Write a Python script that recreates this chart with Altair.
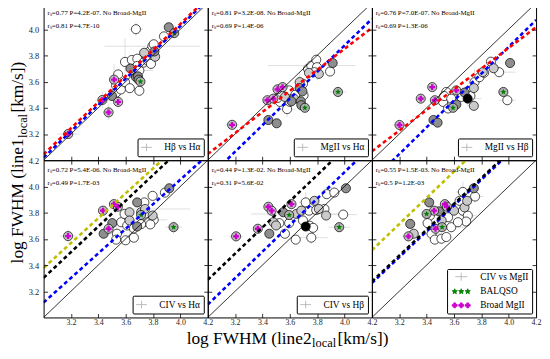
import math
import altair as alt
import pandas as pd

FONT = "Liberation Serif"

# ---------------- data ----------------
# points: (x, y, kind)  kind: w=white, l=light grey, d=dark grey, k=black, m=Broad MgII, g=BALQSO
P1_POINTS = [
    (3.18, 3.20, 'm'), (3.43, 3.46, 'm'), (3.50, 3.49, 'd'), (3.475, 3.365, 'm'), (3.545, 3.445, 'm'),
    (3.515, 3.615, 'm'), (3.545, 3.655, 'w'), (3.53, 3.57, 'w'), (3.53, 3.515, 'w'), (3.565, 3.54, 'w'),
    (3.595, 3.595, 'w'), (3.595, 3.75, 'w'), (3.63, 3.55, 'w'), (3.645, 3.765, 'w'), (3.685, 3.775, 'w'),
    (3.685, 3.72, 'w'), (3.70, 3.685, 'w'), (3.70, 3.53, 'w'), (3.675, 3.635, 'd'), (3.69, 3.64, 'd'),
    (3.695, 3.615, 'd'), (3.708, 3.60, 'g'), (3.635, 3.70, 'd'), (3.675, 4.00, 'w'), (3.73, 3.745, 'w'),
    (3.755, 3.79, 'w'), (3.775, 3.83, 'w'), (3.795, 3.87, 'w'), (3.805, 3.885, 'w'), (3.735, 3.82, 'l'),
    (3.815, 3.79, 'l'), (3.81, 3.83, 'd'), (3.76, 3.76, 'w'), (3.785, 3.735, 'w'), (3.88, 3.945, 'w'),
    (3.915, 4.015, 'd'), (3.955, 3.97, 'g'),
]
P2_POINTS = [
    (3.178, 3.27, 'm'), (3.443, 3.307, 'd'), (3.504, 3.282, 'd'), (3.436, 3.458, 'm'), (3.48, 3.47, 'm'),
    (3.51, 3.541, 'm'), (3.547, 3.558, 'm'), (3.528, 3.445, 'w'), (3.51, 3.475, 'w'), (3.58, 3.39, 'w'),
    (3.533, 3.521, 'w'), (3.595, 3.533, 'w'), (3.564, 3.483, 'l'), (3.60, 3.445, 'w'), (3.612, 3.45, 'd'),
    (3.672, 3.551, 'd'), (3.692, 3.526, 'd'), (3.70, 3.496, 'w'), (3.68, 3.45, 'd'), (3.684, 3.42, 'd'),
    (3.71, 3.40, 'g'), (3.672, 3.596, 'l'), (3.696, 3.584, 'w'), (3.733, 3.697, 'w'), (3.74, 3.667, 'l'),
    (3.757, 3.722, 'w'), (3.793, 3.767, 'w'), (3.798, 3.71, 'w'), (3.812, 3.659, 'l'), (3.78, 3.672, 'w'),
    (3.913, 3.742, 'd'), (3.894, 3.677, 'w'), (3.952, 3.521, 'g'), (3.64, 3.50, 'w'), (3.63, 3.47, 'l'),
]
P3_POINTS = [
    (3.202, 3.269, 'm'), (3.357, 3.47, 'm'), (3.441, 3.558, 'm'), (3.46, 3.458, 'm'), (3.617, 3.533, 'm'),
    (3.45, 3.307, 'd'), (3.48, 3.287, 'd'), (3.52, 3.445, 'w'), (3.557, 3.395, 'w'), (3.544, 3.521, 'w'),
    (3.528, 3.49, 'w'), (3.58, 3.47, 'w'), (3.617, 3.425, 'd'), (3.593, 3.40, 'g'), (3.653, 3.483, 'w'),
    (3.70, 3.47, 'k'), (3.677, 3.516, 'd'), (3.70, 3.526, 'w'), (3.745, 3.551, 'l'), (3.75, 3.596, 'w'),
    (3.745, 3.415, 'l'), (3.786, 3.634, 'w'), (3.81, 3.672, 'l'), (3.82, 3.667, 'w'), (3.87, 3.752, 'w'),
    (3.89, 3.702, 'l'), (3.93, 3.672, 'w'), (4.01, 3.742, 'd'), (3.961, 3.521, 'g'), (3.99, 3.458, 'w'),
    (3.72, 3.49, 'w'),
]
P4_POINTS = [
    (3.179, 3.621, 'm'), (3.434, 3.815, 'm'), (3.514, 3.865, 'm'), (3.543, 3.845, 'm'), (3.475, 3.677, 'm'),
    (3.439, 3.639, 'd'), (3.502, 3.72, 'd'), (3.536, 3.639, 'w'), (3.53, 3.594, 'w'), (3.599, 3.589, 'w'),
    (3.66, 3.609, 'w'), (3.567, 3.727, 'w'), (3.592, 3.79, 'w'), (3.628, 3.803, 'l'), (3.611, 3.702, 'w'),
    (3.628, 3.74, 'l'), (3.684, 3.878, 'd'), (3.713, 3.803, 'l'), (3.737, 3.878, 'w'), (3.713, 3.782, 'g'),
    (3.684, 3.694, 'd'), (3.761, 3.727, 'w'), (3.742, 3.828, 'l'), (3.797, 3.928, 'w'), (3.797, 3.778, 'l'),
    (3.805, 3.745, 'w'), (3.78, 3.71, 'w'), (3.887, 3.953, 'w'), (3.919, 3.986, 'd'), (3.95, 3.689, 'g'),
    (3.713, 3.712, 'w'), (3.66, 3.68, 'w'),
]
P5_POINTS = [
    (3.207, 3.619, 'm'), (3.366, 3.677, 'm'), (3.443, 3.845, 'm'), (3.467, 3.815, 'm'), (3.612, 3.865, 'm'),
    (3.595, 3.782, 'g'), (3.45, 3.639, 'd'), (3.523, 3.72, 'w'), (3.48, 3.727, 'l'), (3.564, 3.639, 'w'),
    (3.595, 3.72, 'w'), (3.552, 3.803, 'd'), (3.648, 3.79, 'l'), (3.684, 3.815, 'l'), (3.716, 3.878, 'w'),
    (3.74, 3.815, 'w'), (3.78, 3.89, 'l'), (3.793, 3.82, 'w'), (3.812, 3.828, 'l'), (3.865, 3.778, 'l'),
    (3.853, 3.828, 'w'), (3.87, 3.941, 'w'), (3.925, 3.953, 'w'), (4.01, 3.986, 'd'), (3.99, 3.785, 'w'),
    (3.961, 3.689, 'g'), (3.716, 3.694, 'k'), (3.745, 3.70, 'w'), (3.77, 3.684, 'w'), (3.643, 3.594, 'w'),
    (3.757, 3.609, 'w'), (3.696, 3.74, 'w'), (3.499, 3.702, 'l'),
]
P6_POINTS = [
    (3.267, 3.619, 'm'), (3.455, 3.815, 'm'), (3.465, 3.677, 'm'), (3.533, 3.865, 'm'), (3.549, 3.845, 'm'),
    (3.40, 3.79, 'g'), (3.513, 3.689, 'g'), (3.28, 3.714, 'd'), (3.306, 3.639, 'l'), (3.419, 3.878, 'd'),
    (3.424, 3.777, 'w'), (3.407, 3.72, 'w'), (3.436, 3.639, 'w'), (3.46, 3.594, 'w'), (3.508, 3.601, 'w'),
    (3.544, 3.614, 'w'), (3.49, 3.81, 'd'), (3.51, 3.74, 'l'), (3.557, 3.765, 'w'), (3.58, 3.689, 'w'),
    (3.617, 3.845, 'w'), (3.60, 3.815, 'l'), (3.641, 3.89, 'w'), (3.665, 3.815, 'w'), (3.677, 3.84, 'l'),
    (3.696, 3.89, 'l'), (3.701, 3.777, 'w'), (3.689, 3.732, 'w'), (3.629, 3.727, 'w'), (3.665, 3.958, 'w'),
    (3.745, 3.986, 'd'), (3.754, 3.923, 'w'),
]

# error bars: (x, y, xerr, yerr)
P1_ERR = [(3.18, 3.20, 0.08, 0.03), (3.795, 3.87, 0.35, 0.03), (3.515, 3.615, 0.04, 0.12),
          (3.595, 3.75, 0.03, 0.18), (3.43, 3.46, 0.05, 0.06), (3.675, 4.00, 0.05, 0.05),
          (3.70, 3.685, 0.10, 0.04), (3.475, 3.365, 0.04, 0.06)]
P2_ERR = [(3.757, 3.722, 0.32, 0.03), (3.178, 3.27, 0.05, 0.04), (3.672, 3.551, 0.05, 0.12),
          (3.80, 3.71, 0.04, 0.10), (3.952, 3.521, 0.06, 0.04), (3.58, 3.39, 0.06, 0.06)]
P3_ERR = [(3.58, 3.47, 0.15, 0.03), (3.93, 3.672, 0.12, 0.03), (3.70, 3.47, 0.10, 0.06),
          (3.202, 3.269, 0.05, 0.04), (3.75, 3.596, 0.04, 0.10), (3.99, 3.458, 0.06, 0.04)]
P4_ERR = [(3.742, 3.828, 0.33, 0.03), (3.179, 3.621, 0.06, 0.05), (3.628, 3.74, 0.05, 0.10),
          (3.95, 3.689, 0.06, 0.05), (3.805, 3.745, 0.10, 0.04), (3.536, 3.639, 0.06, 0.06)]
P5_ERR = [(3.648, 3.79, 0.33, 0.03), (3.207, 3.619, 0.05, 0.04), (3.99, 3.785, 0.10, 0.04),
          (3.757, 3.609, 0.12, 0.05), (3.961, 3.689, 0.08, 0.04), (3.716, 3.878, 0.05, 0.08)]
P6_ERR = [(3.665, 3.958, 0.05, 0.08), (3.754, 3.923, 0.06, 0.05), (3.436, 3.639, 0.06, 0.05),
          (3.58, 3.689, 0.10, 0.05), (3.267, 3.619, 0.05, 0.04), (3.701, 3.777, 0.06, 0.06)]

# fitted relations: name -> ([x0, x1], [y0, y1])
P1_FITS = {"blue": ([3.0, 4.2], [3.02, 4.225]), "red": ([3.0, 4.2], [3.045, 4.24])}
P2_FITS = {"blue": ([3.0, 4.2], [2.862, 4.079]), "red": ([3.0, 4.2], [3.047, 4.011])}
P3_FITS = {"blue": ([3.0, 4.2], [2.842, 4.07]), "red": ([3.0, 4.2], [3.068, 4.015])}
P4_FITS = {"yellow": ([3.0, 3.866], [3.378, 4.2]), "black": ([3.0, 3.915], [3.302, 4.2]),
           "blue": ([3.0, 4.2], [3.114, 4.24])}
P5_FITS = {"black": ([3.0, 3.913], [3.287, 4.2]), "blue": ([3.0, 4.09], [3.098, 4.2])}
P6_FITS = {"yellow": ([3.0, 3.687], [3.513, 4.2]), "blue": ([3.0, 3.95], [3.262, 4.2]),
           "black": ([3.0, 3.938], [3.274, 4.2])}

P1_NOTES = ["rₛ=0.77 P=4.2E-07. No Broad-MgII", "rₛ=0.81 P=4.7E-10"]
P2_NOTES = ["rₛ=0.81 P=3.2E-08. No Broad-MgII", "rₛ=0.69 P=1.4E-06"]
P3_NOTES = ["rₛ=0.76 P=7.0E-07. No Broad-MgII", "rₛ=0.69 P=1.3E-06"]
P4_NOTES = ["rₛ=0.72 P=5.4E-06. No Broad-MgII", "rₛ=0.49 P=1.7E-03"]
P5_NOTES = ["rₛ=0.44 P=1.3E-02. No Broad-MgII", "rₛ=0.31 P=5.6E-02"]
P6_NOTES = ["rₛ=0.55 P=1.5E-03. No Broad-MgII", "rₛ=0.5 P=1.2E-03"]

P1_LEGEND = ["Hβ vs Hα"]
P2_LEGEND = ["MgII vs Hα"]
P3_LEGEND = ["MgII vs Hβ"]
P4_LEGEND = ["CIV vs Hα"]
P5_LEGEND = ["CIV vs Hβ"]
P6_LEGEND = ["CIV vs MgII", "BALQSO", "Broad MgII"]

DIAG = [3.0, 4.2]
DOM = [3.0, 4.2]
TICKS = [3.2, 3.4, 3.6, 3.8, 4.0]
LABELS = [3.2, 3.4, 3.6, 3.8, 4.0, 4.2]

Y_TITLE = ["log FWHM (line1", "local", "[km/s])"]
X_TITLE = ["log FWHM (line2", "local", "[km/s])"]

# ---------------- styles ----------------
W, H = 166, 159
FILL = {'w': '#ffffff', 'l': '#cacaca', 'd': '#8e8e8e', 'k': '#000000', 'm': '#c4c4c4', 'g': '#b0b0b0'}
LINE_COLOR = {'red': '#ff0000', 'blue': '#0000ff', 'black': '#000000', 'yellow': '#bfbf00'}
MAGENTA = '#cc00cc'
GREEN = '#008000'
ERRC = '#d6d6d6'
LEGERR = '#b4b4b4'
TITLE_SIZE = 17.5
SUB_SIZE = 12.5


def star_path(cx=0.0, r=1.0, ri=0.42):
    pts = []
    for i in range(10):
        ang = math.radians(-90 + 36 * i)
        rr = r if i % 2 == 0 else ri
        pts.append((cx + rr * math.cos(ang), rr * math.sin(ang)))
    return "M" + "L".join(f"{x:.3f},{y:.3f}" for x, y in pts) + "Z"


def plus_path(cx=0.0, a=1.0, w=0.36):
    c = [(-a, -w), (-w, -w), (-w, -a), (w, -a), (w, -w), (a, -w), (a, w), (w, w), (w, a), (-w, a), (-w, w), (-a, w)]
    return "M" + "L".join(f"{cx + x:.3f},{y:.3f}" for x, y in c) + "Z"


STAR = star_path()
STAR3 = "".join(star_path(cx) for cx in (0.0, 2.4, 4.8))
PLUS3 = "".join(plus_path(cx, 0.9, 0.34) for cx in (0.0, 2.4, 4.8))
CROSS1 = "M-1,0L1,0M0,-0.7L0,0.7"
CROSS3 = "M0.2,0L4.6,0M2.4,-1.5L2.4,1.5"

ONE = pd.DataFrame({'a': [0]})


def scale():
    return alt.Scale(domain=DOM, nice=False, zero=False)


def tick_axis(orient, offset):
    return alt.Axis(orient=orient, offset=offset, values=TICKS, labels=False, domain=True,
                    domainColor='black', domainWidth=1, ticks=True, tickSize=4, tickColor='black',
                    tickWidth=0.8, grid=False, title=None, zindex=2)


def label_axis(orient, pad, size):
    return alt.Axis(orient=orient, values=LABELS, format='.1f', labels=True, ticks=False, domain=False,
                    grid=False, title=None, labelFont=FONT, labelFontSize=size, labelColor='#222222',
                    labelPadding=pad, labelFlush=False, labelOverlap=False)


def X(f, axis=None):
    return alt.X(f, type='quantitative', scale=scale(), axis=axis)


def Y(f, axis=None):
    return alt.Y(f, type='quantitative', scale=scale(), axis=axis)


def text_piece(txt, size, angle, align, px, py):
    kw = dict(text=txt, align=align, baseline='alphabetic', font=FONT, fontSize=size, color='black')
    if angle:
        kw['angle'] = angle
    return alt.Chart(ONE).mark_text(**kw).encode(x=alt.value(px), y=alt.value(py))


def legend_layer(labels):
    if len(labels) == 1:
        shapes, fills, strokes = [CROSS1], ['transparent'], [LEGERR]
        size, loff, rowpad = 121, 12, 2
    else:
        shapes = [CROSS3, STAR3, PLUS3]
        fills = ['transparent', GREEN, MAGENTA]
        strokes = [LEGERR, GREEN, MAGENTA]
        size, loff, rowpad = 30, 21, 3
    leg = alt.Legend(title=None, orient='bottom-right', offset=4, padding=3, strokeColor='black',
                     fillColor='white', cornerRadius=1, labelFont=FONT, labelFontSize=9.5,
                     labelColor='black', symbolSize=size, symbolStrokeWidth=0.9, labelOffset=loff,
                     rowPadding=rowpad)
    df = pd.DataFrame({'lab': labels})
    return alt.Chart(df).transform_filter('false').mark_point(filled=True, opacity=1).encode(
        fill=alt.Fill('lab:N', scale=alt.Scale(domain=labels, range=fills), legend=leg),
        stroke=alt.Stroke('lab:N', scale=alt.Scale(domain=labels, range=strokes), legend=leg),
        shape=alt.Shape('lab:N', scale=alt.Scale(domain=labels, range=shapes), legend=leg),
    )


def panel(points, errs, fits, notes, legend_labels, row, col):
    pts = pd.DataFrame(points, columns=['x', 'y', 'kind'])
    e = pd.DataFrame(errs, columns=['x', 'y', 'xe', 'ye'])
    e['xlo'] = e['x'] - e['xe']
    e['xhi'] = e['x'] + e['xe']
    e['ylo'] = e['y'] - e['ye']
    e['yhi'] = e['y'] + e['ye']
    diag = pd.DataFrame({'x': DIAG, 'y': DIAG})

    layers = []
    eb = alt.Chart(e)
    layers.append(eb.mark_rule(color=ERRC, strokeWidth=0.8, clip=True).encode(
        x=X('xlo'), x2='xhi', y=Y('y')))
    layers.append(eb.mark_rule(color=ERRC, strokeWidth=0.8, clip=True).encode(
        x=X('x'), y=Y('ylo'), y2='yhi'))

    for k in ['w', 'l', 'd', 'k', 'm', 'g']:
        sub = pts[pts['kind'] == k]
        if len(sub) == 0:
            continue
        layers.append(alt.Chart(sub).mark_point(shape='circle', filled=True, fill=FILL[k], stroke='black',
                                                strokeWidth=0.7, size=85, opacity=1).encode(
            x=X('x'), y=Y('y')))
    m = pts[pts['kind'] == 'm']
    if len(m):
        layers.append(alt.Chart(m).mark_point(shape='cross', filled=True, fill=MAGENTA, size=36,
                                              opacity=1, strokeWidth=0).encode(x=X('x'), y=Y('y')))
    g = pts[pts['kind'] == 'g']
    if len(g):
        layers.append(alt.Chart(g).mark_point(shape=STAR, filled=True, fill=GREEN, size=42,
                                              opacity=1, strokeWidth=0).encode(x=X('x'), y=Y('y')))

    layers.append(alt.Chart(diag).mark_line(color='black', strokeWidth=0.8, clip=True).encode(
        x=X('x'), y=Y('y')))
    for name, (xs, ys) in fits.items():
        df = pd.DataFrame({'x': xs, 'y': ys})
        layers.append(alt.Chart(df).mark_line(color=LINE_COLOR[name], strokeWidth=2.6, strokeDash=[4, 3],
                                              clip=True).encode(x=X('x'), y=Y('y')))
    for i, t in enumerate(notes):
        layers.append(alt.Chart(ONE).mark_text(text=t, align='left', baseline='middle', font=FONT,
                                               fontSize=7, color='black').encode(
            x=alt.value(4), y=alt.value(10 + 13 * i)))

    # shared axis titles (placed relative to the bottom-row panels)
    if row == 1 and col == 0:
        layers.append(text_piece(Y_TITLE[0], TITLE_SIZE, 270, 'right', -21, -22))
        layers.append(text_piece(Y_TITLE[1], SUB_SIZE, 270, 'left', -17, -22.5))
        layers.append(text_piece(Y_TITLE[2], TITLE_SIZE, 270, 'left', -21, -48.2))
    if row == 1 and col == 1:
        layers.append(text_piece(X_TITLE[0], TITLE_SIZE, 0, 'right', 105, 185.5))
        layers.append(text_piece(X_TITLE[1], SUB_SIZE, 0, 'left', 105.5, 189))
        layers.append(text_piece(X_TITLE[2], TITLE_SIZE, 0, 'left', 131.2, 185.5))

    layers.append(legend_layer(legend_labels))

    # axis carriers (invisible): inward ticks + frame on all four edges, labels on outer edges
    car = alt.Chart(diag).mark_line(opacity=0)
    layers.append(car.encode(x=X('x', tick_axis('bottom', -H)), y=Y('y', tick_axis('right', -W))))
    layers.append(car.encode(x=X('x', tick_axis('top', -H)), y=Y('y', tick_axis('left', -W))))
    lx = label_axis('bottom', 1, 8) if row == 1 else None
    ly = label_axis('left', 5, 8.5) if col == 0 else None
    if lx is not None or ly is not None:
        layers.append(car.encode(x=X('x', lx), y=Y('y', ly)))

    return alt.layer(*layers).resolve_axis(x='independent', y='independent').properties(width=W, height=H)


DATA = [
    (P1_POINTS, P1_ERR, P1_FITS, P1_NOTES, P1_LEGEND),
    (P2_POINTS, P2_ERR, P2_FITS, P2_NOTES, P2_LEGEND),
    (P3_POINTS, P3_ERR, P3_FITS, P3_NOTES, P3_LEGEND),
    (P4_POINTS, P4_ERR, P4_FITS, P4_NOTES, P4_LEGEND),
    (P5_POINTS, P5_ERR, P5_FITS, P5_NOTES, P5_LEGEND),
    (P6_POINTS, P6_ERR, P6_FITS, P6_NOTES, P6_LEGEND),
]

cells = [panel(*DATA[i], i // 3, i % 3) for i in range(6)]
chart = alt.concat(*cells, columns=3, spacing=0, bounds='flush').resolve_scale(
    fill='independent', stroke='independent', shape='independent'
).resolve_legend(
    fill='independent', stroke='independent', shape='independent'
).properties(
    padding={"left": 0, "top": -12, "right": 0, "bottom": 0}
).configure_view(stroke='transparent')

chart.save("out.html", embed_options={"renderer": "svg", "actions": False})
